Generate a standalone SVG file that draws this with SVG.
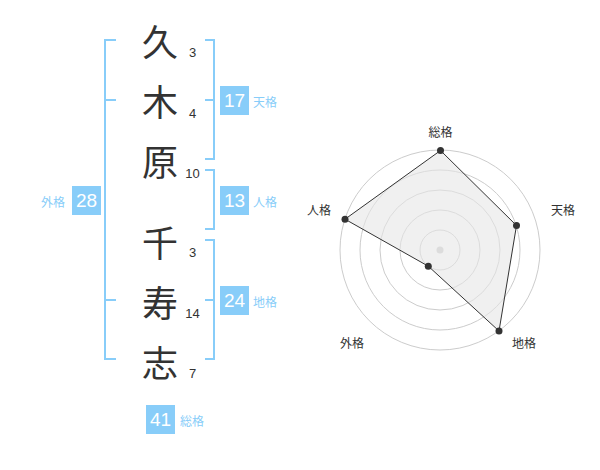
<svg xmlns="http://www.w3.org/2000/svg" width="600" height="470" viewBox="0 0 600 470">
<style>
.kanji{font-family:"Noto Sans CJK JP","Noto Sans",sans-serif;font-size:36px;fill:#333;text-anchor:middle;dominant-baseline:central}
.strk{font-family:"Liberation Sans",Arial,sans-serif;font-size:13px;fill:#333;text-anchor:middle;dominant-baseline:central}
.br{fill:none;stroke:#88cdf9;stroke-width:2}
.box{fill:#88cdf9}
.num{font-family:"Liberation Sans",Arial,sans-serif;font-size:19px;fill:#fff;text-anchor:middle;dominant-baseline:central}
.lab{font-family:"Noto Sans CJK JP",sans-serif;font-size:12px;fill:#88cdf9;dominant-baseline:central}
.ring{fill:none;stroke:#ccc;stroke-width:1}
.axl{font-family:"Noto Sans CJK JP",sans-serif;font-size:12px;fill:#333;text-anchor:middle;dominant-baseline:central}
.pt{fill:#333}
</style>
<rect width="600" height="470" fill="#fff"/>
<g id="chars">
<text class="kanji" x="160" y="40">久</text>
<text class="kanji" x="160" y="100">木</text>
<text class="kanji" x="160" y="160">原</text>
<text class="kanji" x="160" y="241">千</text>
<text class="kanji" x="160" y="301">寿</text>
<text class="kanji" x="160" y="361">志</text>
</g>
<g id="strokes">
<text class="strk" x="192.5" y="52.5">3</text>
<text class="strk" x="192.5" y="113.5">4</text>
<text class="strk" x="192.5" y="173.5">10</text>
<text class="strk" x="192.5" y="252.5">3</text>
<text class="strk" x="192.5" y="313.5">14</text>
<text class="strk" x="192.5" y="373.5">7</text>
</g>
<g id="connectors">
<path class="br" d="M116,40 H105 V359 H116 M105,100 H116 M105,300 H116"/>
<path class="br" d="M205,40 H214 V159 H205 M205,100 H214"/>
<path class="br" d="M205,170 H214 V229 H205"/>
<path class="br" d="M205,240 H214 V359 H205 M205,300 H214"/>
</g>
<g id="tenkaku">
<rect class="box" x="220" y="86" width="29" height="29"/>
<text class="num" x="234.5" y="100.5">17</text>
<text class="lab" x="253" y="101">天格</text>
</g>
<g id="jinkaku">
<rect class="box" x="220" y="186" width="29" height="29"/>
<text class="num" x="234.5" y="200.5">13</text>
<text class="lab" x="253" y="201">人格</text>
</g>
<g id="chikaku">
<rect class="box" x="220" y="286" width="29" height="29"/>
<text class="num" x="234.5" y="300.5">24</text>
<text class="lab" x="253" y="301">地格</text>
</g>
<g id="gaikaku">
<rect class="box" x="72" y="186" width="29" height="29"/>
<text class="num" x="86.5" y="200.5">28</text>
<text class="lab" x="41" y="201">外格</text>
</g>
<g id="soukaku">
<rect class="box" x="146" y="405" width="29" height="29"/>
<text class="num" x="160.5" y="419.5">41</text>
<text class="lab" x="180" y="420">総格</text>
</g>
<g id="radar">
<circle class="ring" cx="440" cy="250" r="20"/>
<circle class="ring" cx="440" cy="250" r="40"/>
<circle class="ring" cx="440" cy="250" r="60"/>
<circle class="ring" cx="440" cy="250" r="80"/>
<circle class="ring" cx="440" cy="250" r="100"/>
<circle cx="440" cy="250" r="3.5" fill="#ccc"/>
<polygon points="440.5,150.5 516.5,225.5 499,331 428.3,266.2 345,219.2" fill="#e6e6e6" fill-opacity="0.6" stroke="#333" stroke-width="1"/>
<circle class="pt" cx="440.5" cy="150.5" r="3.5"/>
<circle class="pt" cx="516.5" cy="225.5" r="3.5"/>
<circle class="pt" cx="499" cy="331" r="3.5"/>
<circle class="pt" cx="428.3" cy="266.2" r="3.5"/>
<circle class="pt" cx="345" cy="219.2" r="3.5"/>
<text class="axl" x="440.5" y="131">総格</text>
<text class="axl" x="563" y="209">天格</text>
<text class="axl" x="319" y="209">人格</text>
<text class="axl" x="352" y="342.5">外格</text>
<text class="axl" x="524" y="342.5">地格</text>
</g>
</svg>
